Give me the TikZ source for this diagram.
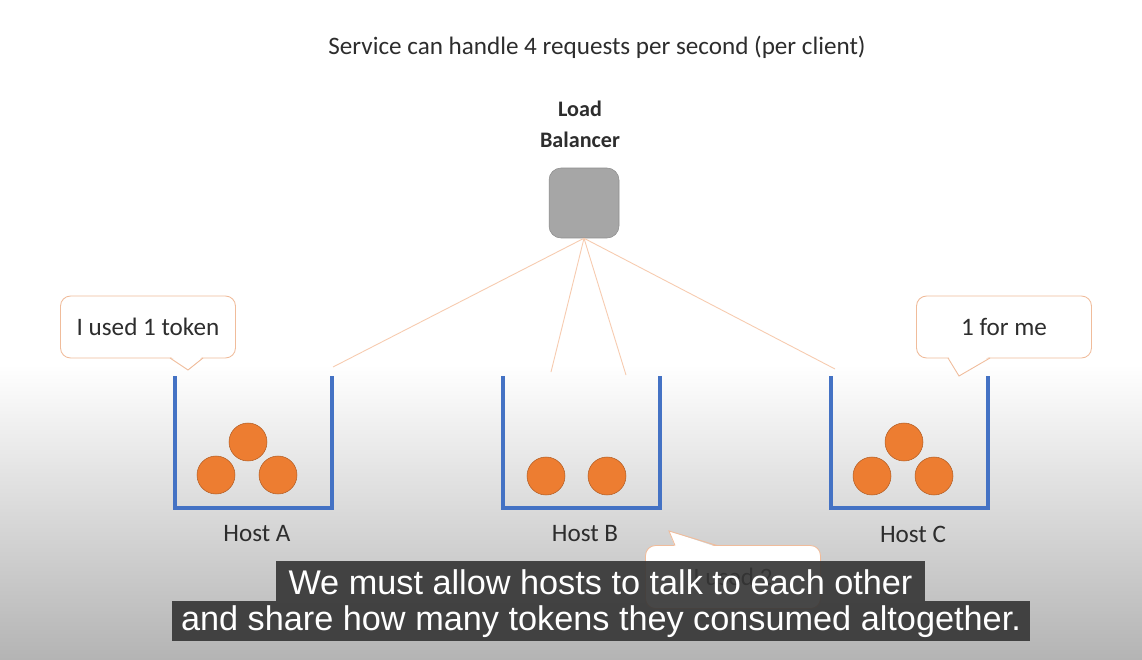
\documentclass[tikz,border=0pt]{standalone}
\usepackage{fontspec}
\setmainfont{Carlito}
\newfontfamily\capfont{Liberation Sans}
\usetikzlibrary{positioning}
\definecolor{mblue}{RGB}{68,114,196}
\definecolor{morange}{RGB}{237,125,49}
\definecolor{mpeach}{RGB}{247,203,175}
\definecolor{mline}{RGB}{240,188,155}
\definecolor{mgrey}{RGB}{166,166,166}
\definecolor{mbar}{RGB}{52,52,52}
\definecolor{mtext}{RGB}{45,45,45}
\definecolor{mshade}{RGB}{180,180,180}
\tikzset{bucket/.style = {mblue, line width=2.8pt},
         ball/.style = {circle, fill=morange, draw=morange!75!black, line width=0.3pt,
                        minimum size=0.76cm, inner sep=0pt},
         bubble/.style = {draw=mline, fill=white, rounded corners=0.2cm, line width=0.5pt,
                          minimum width=3.5cm, minimum height=1.24cm, text=mtext,
                          font=\fontsize{14.3}{16}\selectfont},
         link/.style = {mpeach, line width=0.5pt},
         label/.style = {text=mtext, font=\fontsize{14.3}{16}\selectfont},
         subtitle/.style = {text=white, font=\capfont\fontsize{19.5}{22}\selectfont}}

\begin{document}
\begin{tikzpicture}[x=0.02cm, y=-0.02cm]
    \useasboundingbox (0, 0) rectangle (1142, 659);
    \fill [white] (0, 0) rectangle (1142, 659);
    \shade [top color = white, bottom color = mshade] (0, 365) rectangle (1142, 659);
    % header and load balancer
    \node [label] (title) at (597, 47) {Service can handle 4 requests per second (per client)};
    \node [label, font = \bfseries\fontsize{12.6}{17.6}\selectfont, align = center] (lbtext) at (580, 124) {Load\\Balancer};
    \node [draw = mgrey!85!black, fill = mgrey, rounded corners = 0.24cm, minimum size = 1.4cm, line width = 0.3pt] (lb) at (584, 203) {};
    \coordinate (lA) at (333, 367);
    \coordinate (lB1) at (551, 372);
    \coordinate (lB2) at (626, 375);
    \coordinate (lC) at (835, 369);
    \foreach \c in {lA, lB1, lB2, lC} {
      \draw [link] (lb.south) -- (\c);
    }
    % hosts
    \foreach \x/\h in {175/A, 503/B, 831/C} {
      \draw [bucket] (\x, 376) -- (\x, 508) -- ({\x + 157}, 508) -- ({\x + 157}, 376);
      \node [label] (host\h) at ({\x + 82}, 534) {Host \h};
    }
    \foreach \x/\y/\n in {248/442/A1, 216/475/A2, 278/475/A3, 546/476/B1, 607/476/B2, 904/442/C1, 872/476/C2, 934/476/C3} {
      \node [ball] (ball\n) at (\x, \y) {};
    }
    % speech bubbles
    \node [bubble] (sayA) at (148, 327) {I used 1 token};
    \fill [white] (170, 356) -- (188, 370) -- (203, 356) -- cycle;
    \draw [mline, line width = 0.5pt] (170, 358) -- (188, 370) -- (203, 358);
    \node [bubble] (sayC) at (1004, 327) {1 for me};
    \fill [white] (948, 356) -- (959, 376) -- (990, 356) -- cycle;
    \draw [mline, line width = 0.5pt] (948, 358) -- (959, 376) -- (990, 358);
    \node [bubble, minimum height = 1.26cm] (sayB) at (733, 577) {I used 2};
    \fill [white] (675, 547) -- (669, 531) -- (717, 547) -- cycle;
    \draw [mline, line width = 0.5pt] (675, 545.5) -- (669, 531) -- (717, 545.5);
    % caption bars
    \fill [mbar, opacity = 0.9] (276, 561) rectangle (925, 601);
    \fill [mbar, opacity = 0.9] (172, 601) rectangle (1030, 641);
    \node [subtitle] (cap1) at (600.5, 582) {We must allow hosts to talk to each other};
    \node [subtitle] (cap2) at (601, 622) {and share how many tokens they consumed altogether.};
  \end{tikzpicture}
\end{document}
